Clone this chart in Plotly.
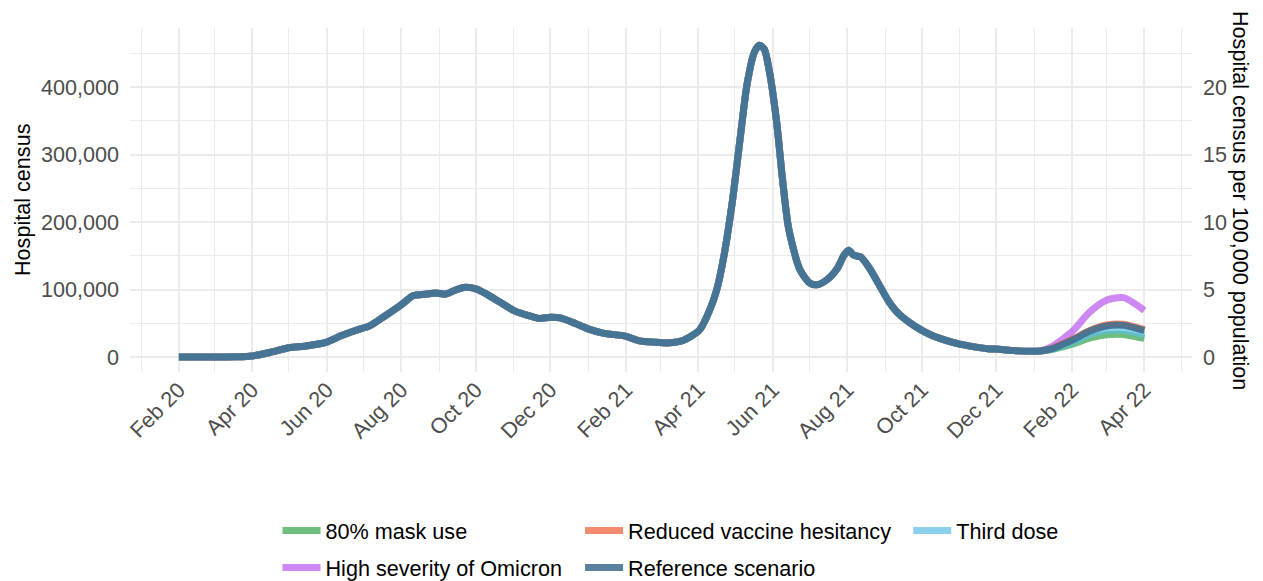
import plotly.graph_objects as go

# Shared history of hospital census (all scenarios identical up to early Jan 2022)
hist_dates = [
    "2020-02-01", "2020-03-01", "2020-03-20", "2020-04-01", "2020-04-16", "2020-05-02",
    "2020-05-14", "2020-06-01", "2020-06-12", "2020-06-24", "2020-07-06", "2020-07-18",
    "2020-07-31", "2020-08-11", "2020-08-21", "2020-08-29", "2020-09-06", "2020-09-14",
    "2020-09-21", "2020-10-01", "2020-10-09", "2020-10-21", "2020-11-02", "2020-11-14",
    "2020-11-22", "2020-12-01", "2020-12-09", "2020-12-21", "2021-01-02", "2021-01-14",
    "2021-01-31", "2021-02-12", "2021-02-24", "2021-03-08", "2021-03-20", "2021-04-02",
    "2021-04-10", "2021-04-16", "2021-04-22", "2021-04-29", "2021-05-05", "2021-05-11",
    "2021-05-17", "2021-05-21", "2021-05-25", "2021-05-29", "2021-06-04", "2021-06-09",
    "2021-06-14", "2021-06-23", "2021-07-01", "2021-07-07", "2021-07-15", "2021-07-24",
    "2021-07-29", "2021-08-02", "2021-08-06", "2021-08-12", "2021-08-19", "2021-08-27",
    "2021-09-04", "2021-09-12", "2021-09-25", "2021-10-08", "2021-10-20", "2021-11-01",
    "2021-11-13", "2021-11-25", "2021-12-03", "2021-12-15", "2021-12-28", "2022-01-06",
]
hist_values = [
    0, 0, 300, 1500, 7000, 14000,
    16000, 22000, 31000, 39000, 46000, 60000,
    76000, 91000, 93000, 95000, 93000, 99000,
    103000, 101000, 94000, 81000, 68000, 61000,
    57000, 59000, 58000, 50000, 41000, 35000,
    31000, 24000, 22000, 21000, 25000, 40000,
    68000, 99000, 150000, 232000, 320000, 405000,
    452000, 462000, 456000, 425000, 350000, 262000,
    190000, 130000, 110000, 107000, 114000, 132000,
    150000, 158000, 151000, 148000, 132000, 107000,
    82000, 64000, 46000, 33000, 25000, 19000,
    15000, 12000, 11500, 9500, 8500, 9000,
]

# Scenario projections
fc_dates = ["2022-01-15", "2022-02-01", "2022-02-15", "2022-03-01", "2022-03-15", "2022-04-01"]
mask_fc = [11000, 19000, 28000, 33000, 33500, 27500]
omicron_fc = [15000, 38000, 66000, 84000, 88000, 69000]
hesitancy_fc = [12500, 26000, 39000, 47500, 48500, 40500]
reference_fc = [12000, 25000, 38000, 46000, 47000, 39000]
third_dose_fc = [11500, 22000, 33000, 39500, 40000, 33000]

POP_SCALE = 20000  # hospital census per 1 unit of "per 100,000 population"

scenarios = [
    # name, projection, colour, legend slot (drawn in this order)
    ("80% mask use", mask_fc, "rgba(62,169,82,0.75)", "legend"),
    ("High severity of Omicron", omicron_fc, "rgba(178,72,238,0.65)", "legend"),
    ("Reduced vaccine hesitancy", hesitancy_fc, "rgba(239,100,62,0.75)", "legend2"),
    ("Third dose", third_dose_fc, "rgba(90,190,228,0.7)", "legend3"),
    ("Reference scenario", reference_fc, "rgba(60,108,142,0.85)", "legend2"),
]

fig = go.Figure()
for name, fc, color, leg in scenarios:
    fig.add_trace(go.Scatter(
        x=hist_dates + fc_dates,
        y=hist_values + fc,
        name=name,
        mode="lines",
        line=dict(color=color, width=7, shape="spline", smoothing=0.7),
        legend=leg,
        legendgroup=name,
        legendrank={"Reduced vaccine hesitancy": 1, "Reference scenario": 2}.get(name, 1),
    ))

y_min, y_max = -22200, 487400
font = "Liberation Sans, Arial, sans-serif"
tick_font = dict(family=font, size=21.6, color="#4D4D4D")
leg_font = dict(family=font, size=21.6, color="black")

fig.update_layout(
    width=1263, height=581,
    margin=dict(l=130, r=71, t=28, b=209, autoexpand=False),
    paper_bgcolor="white", plot_bgcolor="white",
    font=dict(family=font, size=21.6, color="black"),
    xaxis=dict(
        type="date", automargin=False,
        range=["2019-12-23", "2022-05-10"],
        tick0="2020-02-01", dtick="M2", tickformat="%b %y",
        tickangle=-45, tickfont=tick_font,
        showgrid=True, gridcolor="#EBEBEB", gridwidth=1.6,
        minor=dict(dtick="M1", showgrid=True, gridcolor="#EBEBEB", gridwidth=0.8),
        zeroline=False, showline=False, ticks="",
    ),
    yaxis=dict(
        automargin=False,
        range=[y_min, y_max],
        tickvals=[0, 100000, 200000, 300000, 400000],
        tickformat=",d", tickfont=tick_font, ticklabelstandoff=10,
        showgrid=True, gridcolor="#EBEBEB", gridwidth=1.6,
        minor=dict(tickvals=[50000, 150000, 250000, 350000, 450000],
                   showgrid=True, gridcolor="#EBEBEB", gridwidth=0.8),
        zeroline=False, showline=False, ticks="",
    ),
    yaxis2=dict(
        automargin=False,
        overlaying="y", side="right",
        range=[y_min / POP_SCALE, y_max / POP_SCALE],
        tickvals=[0, 5, 10, 15, 20], tickfont=tick_font, ticklabelstandoff=10,
        showgrid=False, zeroline=False, showline=False, ticks="",
    ),
    legend=dict(orientation="v", x=0.1389, y=-0.401, xanchor="left", yanchor="top",
                font=leg_font, tracegroupgap=6, itemwidth=38, bgcolor="rgba(0,0,0,0)"),
    legend2=dict(orientation="v", x=0.4238, y=-0.401, xanchor="left", yanchor="top",
                 font=leg_font, tracegroupgap=6, itemwidth=38, bgcolor="rgba(0,0,0,0)"),
    legend3=dict(orientation="v", x=0.7328, y=-0.401, xanchor="left", yanchor="top",
                 font=leg_font, tracegroupgap=6, itemwidth=38, bgcolor="rgba(0,0,0,0)"),
    annotations=[
        dict(text="Hospital census", xref="paper", yref="paper",
             x=(22 - 130) / 1062, y=0.5, textangle=-90, showarrow=False,
             xanchor="center", yanchor="middle", font=dict(family=font, size=21.6, color="black")),
        dict(text="Hospital census per 100,000 population", xref="paper", yref="paper",
             x=(1241 - 130) / 1062, y=0.5, textangle=90, showarrow=False,
             xanchor="center", yanchor="middle", font=dict(family=font, size=21.6, color="black")),
    ],
)

# invisible trace so the right-hand axis is drawn
fig.add_trace(go.Scatter(x=[hist_dates[0]], y=[0], yaxis="y2", mode="markers",
                         marker=dict(opacity=0), showlegend=False, hoverinfo="skip"))

fig.write_html("out.html")
